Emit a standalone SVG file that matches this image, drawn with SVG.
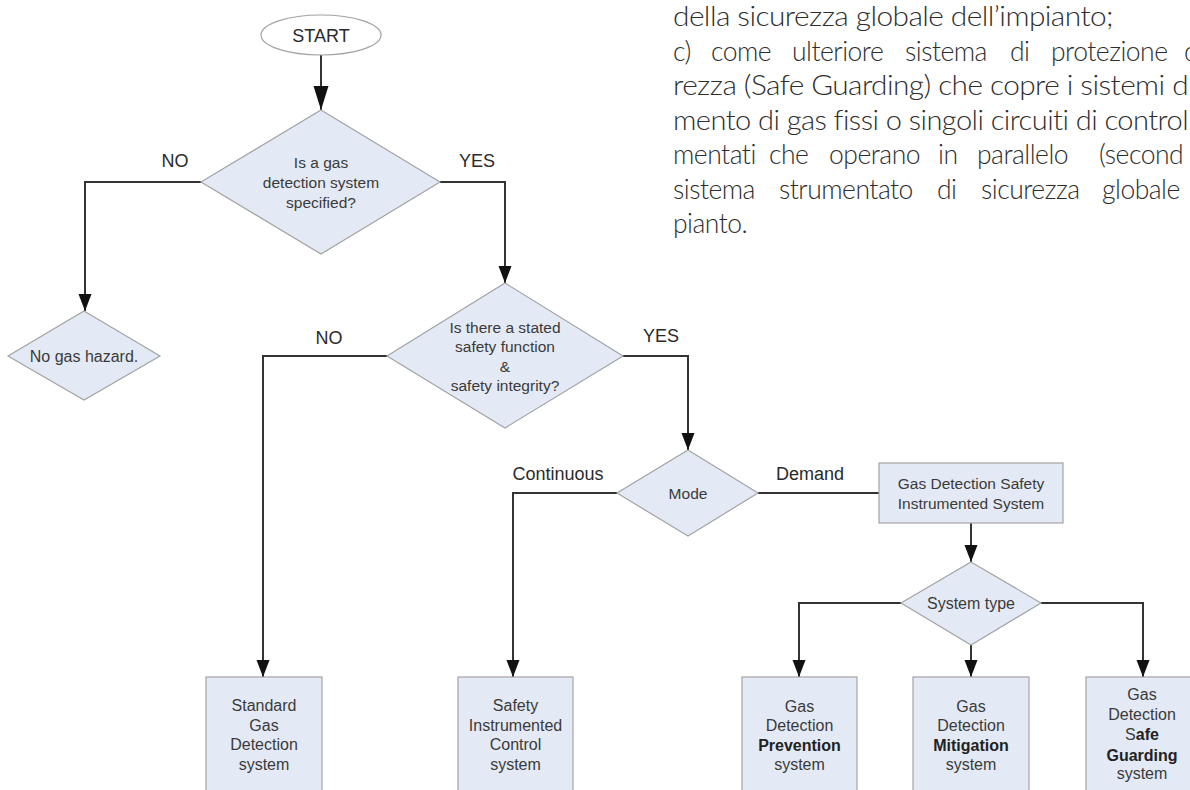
<svg xmlns="http://www.w3.org/2000/svg" width="1190" height="790" viewBox="0 0 1190 790">
<style>
.node{fill:#e4eaf5;stroke:#a3a3a3;stroke-width:1.2}
.t{font-family:"Liberation Sans",Arial,sans-serif;font-size:15.5px;fill:#3a3a3a;text-anchor:middle}
.b{font-size:16px}
.bold{font-weight:bold;fill:#222}
.lbl{font-family:"Liberation Sans",Arial,sans-serif;font-size:18px;fill:#2a2a2a;text-anchor:middle}
.c{fill:none;stroke:#333;stroke-width:2}
.it{font-family:Lato,"Open Sans",sans-serif;font-weight:300;font-size:26.5px;letter-spacing:-0.5px;fill:#2d2d2d}
</style>
<defs>
<marker id="ah" markerUnits="userSpaceOnUse" markerWidth="18" markerHeight="14" refX="17" refY="6.5" orient="auto">
<path d="M0,0 L17,6.5 L0,13 Z" fill="#111"/>
</marker>
<marker id="ahb" markerUnits="userSpaceOnUse" markerWidth="25" markerHeight="16" refX="24" refY="7.5" orient="auto">
<path d="M0,0 L24,7.5 L0,15 Z" fill="#111"/>
</marker>
</defs>

<g id="text-block">
<text class="it" x="673" y="26" textLength="440" lengthAdjust="spacingAndGlyphs">della sicurezza globale dell’impianto;</text>
<text class="it" y="61"><tspan x="673">c)</tspan><tspan x="711">come</tspan><tspan x="792">ulteriore</tspan><tspan x="905">sistema</tspan><tspan x="1010">di</tspan><tspan x="1051">protezione</tspan><tspan x="1184">d</tspan></text>
<text class="it" x="673" y="95" textLength="515" lengthAdjust="spacingAndGlyphs">rezza (Safe Guarding) che copre i sistemi d</text>
<text class="it" x="673" y="130" textLength="515" lengthAdjust="spacingAndGlyphs">mento di gas fissi o singoli circuiti di control</text>
<text class="it" y="164"><tspan x="673">mentati</tspan><tspan x="769">che</tspan><tspan x="829">operano</tspan><tspan x="938">in</tspan><tspan x="977">parallelo</tspan><tspan x="1099">(second</tspan></text>
<text class="it" y="199"><tspan x="673">sistema</tspan><tspan x="779">strumentato</tspan><tspan x="937">di</tspan><tspan x="981">sicurezza</tspan><tspan x="1102">globale</tspan></text>
<text class="it" x="673" y="233">pianto.</text>
</g>

<g id="connectors">
<path class="c" d="M321,55 V110" stroke-width="3.5" marker-end="url(#ahb)"/>
<path class="c" d="M440,182 H505 V283" marker-end="url(#ah)"/>
<path class="c" d="M201,182 H85 V311" marker-end="url(#ah)"/>
<path class="c" d="M387,356 H263 V677" marker-end="url(#ah)"/>
<path class="c" d="M623,356 H688 V450" marker-end="url(#ah)"/>
<path class="c" d="M617,493 H513 V677" marker-end="url(#ah)"/>
<path class="c" d="M758,493 H879"/>
<path class="c" d="M971,523 V562" marker-end="url(#ah)"/>
<path class="c" d="M901,603 H799 V677" marker-end="url(#ah)"/>
<path class="c" d="M971,645 V677" marker-end="url(#ah)"/>
<path class="c" d="M1041,603 H1143 V677" marker-end="url(#ah)"/>
<text class="lbl" x="175" y="166.5">NO</text>
<text class="lbl" x="477" y="166.5">YES</text>
<text class="lbl" x="329" y="343.5">NO</text>
<text class="lbl" x="661" y="341.5">YES</text>
<text class="lbl" x="558" y="480">Continuous</text>
<text class="lbl" x="810" y="480">Demand</text>
</g>

<g id="start">
<ellipse cx="321" cy="35" rx="60" ry="20" fill="#fff" stroke="#a3a3a3" stroke-width="1.2"/>
<text class="lbl" x="321" y="41.5">START</text>
</g>

<g id="q-gas-system">
<polygon class="node" points="321,110 440,182 321,254 201,182"/>
<text class="t" x="321" y="167.5">Is a gas</text>
<text class="t" x="321" y="187.5">detection system</text>
<text class="t" x="321" y="207.5">specified?</text>
</g>

<g id="no-gas-hazard">
<polygon class="node" points="84,311 160,356 84,400 8,356"/>
<text class="t b" x="84" y="361.5">No gas hazard.</text>
</g>

<g id="q-safety-function">
<polygon class="node" points="505,283 623,356 505,428 387,356"/>
<text class="t" x="505" y="332.5">Is there a stated</text>
<text class="t" x="505" y="352">safety function</text>
<text class="t" x="505" y="371.5">&amp;</text>
<text class="t" x="505" y="391">safety integrity?</text>
</g>

<g id="mode">
<polygon class="node" points="688,450 758,493 688,536 617,493"/>
<text class="t" x="688" y="499">Mode</text>
</g>

<g id="gd-sis">
<rect class="node" x="879" y="463" width="184" height="60"/>
<text class="t" x="971" y="488.5">Gas Detection Safety</text>
<text class="t" x="971" y="508.5">Instrumented System</text>
</g>

<g id="system-type">
<polygon class="node" points="971,562 1041,603 971,645 901,603"/>
<text class="t b" x="971" y="608.5">System type</text>
</g>

<g id="standard">
<rect class="node" x="206" y="677" width="116" height="125"/>
<text class="t b" x="264" y="711">Standard</text>
<text class="t b" x="264" y="730.5">Gas</text>
<text class="t b" x="264" y="750">Detection</text>
<text class="t b" x="264" y="769.5">system</text>
</g>

<g id="sic">
<rect class="node" x="458" y="677" width="115" height="125"/>
<text class="t b" x="515.5" y="711">Safety</text>
<text class="t b" x="515.5" y="730.5">Instrumented</text>
<text class="t b" x="515.5" y="750">Control</text>
<text class="t b" x="515.5" y="769.5">system</text>
</g>

<g id="prevention">
<rect class="node" x="742" y="677" width="115" height="125"/>
<text class="t b" x="799.5" y="711.5">Gas</text>
<text class="t b" x="799.5" y="731">Detection</text>
<text class="t b bold" x="799.5" y="750.5">Prevention</text>
<text class="t b" x="799.5" y="770">system</text>
</g>

<g id="mitigation">
<rect class="node" x="913" y="677" width="116" height="125"/>
<text class="t b" x="971" y="711.5">Gas</text>
<text class="t b" x="971" y="731">Detection</text>
<text class="t b bold" x="971" y="750.5">Mitigation</text>
<text class="t b" x="971" y="770">system</text>
</g>

<g id="safe-guarding">
<rect class="node" x="1086" y="677" width="114" height="125"/>
<text class="t b" x="1142" y="700">Gas</text>
<text class="t b" x="1142" y="719.5">Detection</text>
<text class="t b" x="1142" y="740">S<tspan class="bold">afe</tspan></text>
<text class="t b bold" x="1142" y="760.5">Guarding</text>
<text class="t b" x="1142" y="779">system</text>
</g>
</svg>
